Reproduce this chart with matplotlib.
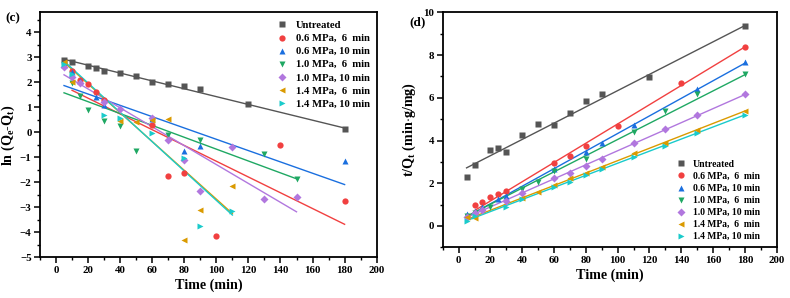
import numpy as np
import matplotlib.pyplot as plt
from matplotlib.ticker import MultipleLocator

plt.rcParams['font.family'] = ['Liberation Serif', 'DejaVu Serif']
plt.rcParams['font.weight'] = 'bold'
plt.rcParams['mathtext.fontset'] = 'custom'
plt.rcParams['mathtext.rm'] = 'Liberation Serif:bold'
plt.rcParams['mathtext.it'] = 'Liberation Serif:bold'
plt.rcParams['mathtext.bf'] = 'Liberation Serif:bold'

labels = ["Untreated", "0.6 MPa,  6  min", "0.6 MPa, 10 min", "1.0 MPa,  6  min",
          "1.0 MPa, 10 min", "1.4 MPa,  6  min", "1.4 MPa, 10 min"]
colors = ['#555555', '#F14040', '#1A6FDF', '#1FA863', '#B177DE', '#DA9A00', '#1ACBCB']
markers = ['s', 'o', '^', 'v', 'D', '<', '>']

# (c) pseudo-first-order: ln(Qe-Qt) vs t
ln_t = [
    [5, 10, 20, 25, 30, 40, 50, 60, 70, 80, 90, 120, 180],
    [10, 15, 20, 25, 30, 60, 70, 80, 100, 140, 180],
    [5, 10, 15, 25, 30, 60, 80, 90, 180],
    [5, 10, 15, 20, 30, 40, 50, 70, 90, 130, 150],
    [5, 10, 15, 30, 40, 60, 70, 80, 90, 110, 130, 150],
    [5, 10, 40, 50, 60, 70, 80, 90, 110],
    [5, 10, 30, 40, 60, 80, 90, 110],
]
ln_y = [
    [2.88, 2.80, 2.65, 2.56, 2.44, 2.36, 2.24, 2.01, 1.93, 1.85, 1.72, 1.14, 0.15],
    [2.44, 2.08, 1.93, 1.61, 1.30, 0.30, -1.75, -1.62, -4.16, -0.49, -2.76],
    [2.70, 2.41, 2.04, 1.41, 1.10, 0.55, -0.75, -0.54, -1.15],
    [2.62, 1.97, 1.44, 0.88, 0.47, 0.26, -0.74, -0.10, -0.32, -0.85, -1.86],
    [2.60, 2.20, 1.96, 1.20, 0.93, 0.59, -0.32, -1.09, -2.34, -0.60, -2.68, -2.60],
    [2.83, 2.00, 0.45, 0.43, 0.48, 0.52, -4.32, -3.09, -2.16],
    [2.75, 2.32, 0.70, 0.57, -0.04, -1.02, -3.73, -3.13],
]
# fitted lines (start/end time, start/end value)
ln_fit_t0 = [5, 10, 5, 5, 5, 5, 5]
ln_fit_t1 = [180, 180, 180, 150, 150, 110, 110]
ln_fit_y0 = [2.92, 1.68, 1.87, 1.58, 2.30, 2.80, 2.85]
ln_fit_y1 = [0.17, -3.68, -2.09, -1.86, -3.18, -3.25, -3.31]

# (d) pseudo-second-order: t/Qt vs t
tq_t = [
    [5, 10, 20, 25, 30, 40, 50, 60, 70, 80, 90, 120, 180],
    [10, 15, 20, 25, 30, 60, 70, 80, 100, 140, 180],
    [5, 10, 15, 25, 30, 60, 80, 90, 110, 150, 180],
    [5, 10, 20, 40, 50, 60, 80, 110, 130, 150, 180],
    [5, 10, 15, 30, 40, 60, 70, 80, 90, 110, 130, 150, 180],
    [5, 10, 40, 50, 60, 70, 80, 90, 110, 130, 150, 180],
    [5, 10, 30, 40, 60, 70, 80, 90, 110, 130, 150, 180],
]
tq_y = [
    [2.31, 2.85, 3.54, 3.64, 3.48, 4.25, 4.77, 4.73, 5.31, 5.83, 6.16, 6.98, 9.36],
    [0.98, 1.10, 1.35, 1.50, 1.65, 2.96, 3.28, 3.76, 4.66, 6.69, 8.36],
    [0.56, 0.72, 0.90, 1.25, 1.40, 2.66, 3.45, 3.88, 4.73, 6.41, 7.67],
    [0.45, 0.60, 0.88, 1.73, 2.08, 2.55, 3.14, 4.38, 5.39, 6.16, 7.11],
    [0.44, 0.60, 0.75, 1.17, 1.53, 2.23, 2.50, 2.81, 3.12, 3.88, 4.52, 5.20, 6.17],
    [0.42, 0.38, 1.30, 1.61, 1.92, 2.23, 2.47, 2.75, 3.41, 3.88, 4.49, 5.39],
    [0.23, 0.45, 0.90, 1.25, 1.81, 2.08, 2.39, 2.66, 3.25, 3.72, 4.35, 5.19],
]
tq_fit_t0 = [5, 10, 5, 5, 5, 5, 5]
tq_fit_t1 = [180, 180, 180, 180, 180, 180, 180]
tq_fit_y0 = [2.72, 0.72, 0.42, 0.45, 0.40, 0.30, 0.25]
tq_fit_y1 = [9.38, 8.38, 7.62, 7.08, 6.15, 5.38, 5.20]


def style_axes(ax):
    ax.set_xlim(-10, 200)
    ax.xaxis.set_major_locator(MultipleLocator(20))
    ax.xaxis.set_minor_locator(MultipleLocator(10))
    ax.tick_params(which='major', length=4, width=1.1, labelsize=7.8, pad=2)
    ax.tick_params(which='minor', length=2, width=1.0)
    for sp in ax.spines.values():
        sp.set_linewidth(1.3)
    for lab in ax.get_xticklabels() + ax.get_yticklabels():
        lab.set_fontweight('bold')
    ax.set_xlabel('Time (min)', fontsize=10.2, fontweight='bold', labelpad=3)


fig = plt.figure(figsize=(7.9, 2.98), dpi=100)
ax1 = fig.add_axes([0.0506, 0.1366, 0.4262, 0.8221])
ax2 = fig.add_axes([0.5604, 0.170, 0.4228, 0.7887])

for i in range(len(labels)):
    ax1.plot([ln_fit_t0[i], ln_fit_t1[i]], [ln_fit_y0[i], ln_fit_y1[i]], '-',
             color=colors[i], lw=1.0, zorder=2)
for i in range(len(labels)):
    ax1.plot(ln_t[i], ln_y[i], linestyle='none', marker=markers[i], ms=4.5,
             color=colors[i], mec='none', label=labels[i], zorder=3)

for i in range(len(labels)):
    ax2.plot([tq_fit_t0[i], tq_fit_t1[i]], [tq_fit_y0[i], tq_fit_y1[i]], '-',
             color=colors[i], lw=1.0, zorder=2)
for i in range(len(labels)):
    ax2.plot(tq_t[i], tq_y[i], linestyle='none', marker=markers[i], ms=4.5,
             color=colors[i], mec='none', label=labels[i], zorder=3)

ax1.set_ylim(-5, 4.8)
ax1.yaxis.set_major_locator(MultipleLocator(1))
ax1.yaxis.set_minor_locator(MultipleLocator(0.5))
style_axes(ax1)
ax1.set_ylabel('ln (Q$_{e}$-Q$_{t}$)', fontsize=10.2, fontweight='bold', labelpad=2)

ax2.set_ylim(-1, 10)
ax2.yaxis.set_major_locator(MultipleLocator(2))
ax2.yaxis.set_minor_locator(MultipleLocator(1))
style_axes(ax2)
ax2.set_ylabel('t/Q$_{t}$ (min$\\cdot$g/mg)', fontsize=10.2, fontweight='bold', labelpad=4)

ax1.legend(loc='upper left', bbox_to_anchor=(0.69, 0.983), frameon=False,
           handlelength=1.0, handletextpad=0.82, borderaxespad=0, labelspacing=0.33,
           prop={'weight': 'bold', 'size': 7.7})
ax2.legend(loc='lower left', bbox_to_anchor=(0.688, 0.01), frameon=False,
           handlelength=1.0, handletextpad=0.72, borderaxespad=0, labelspacing=0.32,
           prop={'weight': 'bold', 'size': 6.9})

fig.text(0.007, 0.93, '(c)', fontsize=9.5, fontweight='bold')
fig.text(0.518, 0.915, '(d)', fontsize=9.5, fontweight='bold')

fig.savefig('out.png', dpi=100)
